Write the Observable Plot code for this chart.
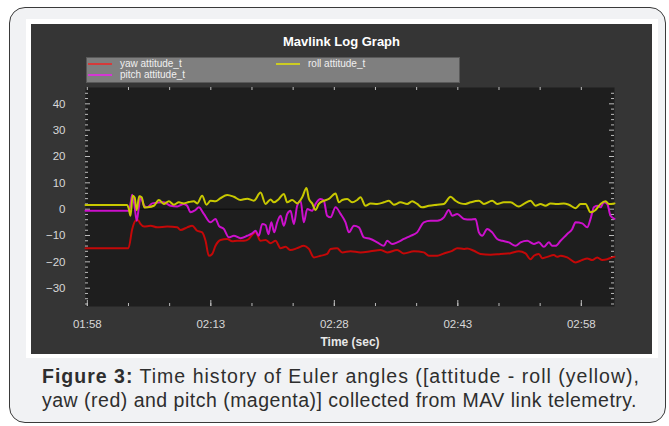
<!DOCTYPE html>
<html>
<head>
<meta charset="utf-8">
<script src="https://cdn.jsdelivr.net/npm/d3@7"></script>
<script src="https://cdn.jsdelivr.net/npm/@observablehq/plot@0.6"></script>
<style>
  html, body { margin: 0; padding: 0; }
  body { width: 669px; height: 426px; background: #ffffff; position: relative; overflow: hidden;
         font-family: "Liberation Sans", Arial, sans-serif; }
  #outer { position: absolute; left: 9px; top: 7px; width: 657px; height: 416px; box-sizing: border-box;
           border: 1.4px solid #3a3a3a; border-radius: 16px; background: #f1f2f4; }
  #frame { position: absolute; left: 26px; top: 19px; width: 632px; height: 339px; background: #ffffff; }
  #panel { position: absolute; left: 31px; top: 24px; width: 621px; height: 330px; background: #353535; }
  #chart { position: absolute; left: 0; top: 0; }
  #title { position: absolute; left: 0; width: 621px; top: 8px; text-align: center; color: #ffffff;
           font-weight: bold; font-size: 13px; line-height: 20px; }
  #legend { position: absolute; left: 55px; top: 33px; width: 374px; height: 26px; box-sizing: border-box;
            background: #7f7f7f; border: 1px solid #595959; }
  .lg { position: absolute; font-size: 10px; line-height: 12px; color: #f0f0f0; white-space: nowrap; }
  .sw { position: absolute; width: 24px; height: 2px; }
  .cap { position: absolute; left: 42px; font-size: 19.5px; line-height: 24px; color: #2e2e2e; white-space: nowrap; }
</style>
</head>
<body>
<div id="outer"></div>
<div id="frame"></div>
<div id="panel">
  <div id="chart"></div>
  <div id="title"></div>
  <div id="legend"></div>
</div>
<div class="cap" id="cap1"></div>
<div class="cap" id="cap2"></div>
<script>
// ---- data (time in seconds after 01:58, angle in degrees) ----
const chartTitle = "Mavlink Log Graph";
const xLabel = "Time (sec)";
const seriesNames = ["yaw attitude_t", "roll attitude_t", "pitch attitude_t"];
const seriesColors = ["#c40808", "#c8c800", "#cc10cc"];
const xTickValues = [0, 15, 30, 45, 60];
const xTickLabels = ["01:58", "02:13", "02:28", "02:43", "02:58"];
const xMinorTicks = [0, 5, 10, 15, 20, 25, 30, 35, 40, 45, 50, 55, 60];
const yTickValues = [-30, -20, -10, 0, 10, 20, 30, 40];
const yMinorTicks = [-36, -34, -32, -28, -26, -24, -22, -18, -16, -14, -12, -8, -6, -4, -2, 2, 4, 6, 8, 12, 14, 16, 18, 22, 24, 26, 28, 32, 34, 36, 38, 42, 44];
const xDomain = [-0.22, 64.03];
const yDomain = [-36.95, 46.2];

const yaw = [[-0.22,-14.8],[5.0,-14.8],[5.45,-7.6],[5.85,-4.4],[6.15,-4.1],[6.45,-5.6],[6.9,-6.6],[7.68,-6.3],[8.49,-6.9],[9.7,-6.6],[10.92,-6.9],[11.32,-7.9],[12.13,-6.9],[12.74,-6.3],[13.34,-8.2],[13.95,-8.8],[14.36,-12.0],[14.76,-17.7],[15.17,-17.0],[15.57,-13.9],[16.18,-11.7],[16.99,-11.3],[17.6,-12.2],[18.2,-12.0],[19.01,-12.0],[19.62,-11.3],[20.03,-9.7],[20.43,-8.8],[21.04,-12.0],[21.65,-11.7],[22.25,-12.9],[22.86,-12.0],[23.47,-14.8],[24.07,-14.3],[24.68,-15.5],[25.49,-14.8],[26.3,-13.9],[26.91,-15.1],[27.52,-18.3],[28.33,-17.7],[29.13,-17.0],[29.54,-15.1],[30.35,-14.8],[30.96,-16.4],[31.97,-16.0],[33.18,-16.4],[34.4,-16.0],[35.61,-15.5],[36.42,-16.4],[37.64,-15.5],[38.45,-16.8],[39.66,-16.0],[40.87,-16.4],[41.48,-17.7],[42.5,-17.7],[43.31,-16.8],[44.32,-15.8],[44.93,-14.8],[45.74,-15.1],[46.14,-14.9],[46.95,-15.8],[47.76,-17.0],[48.97,-17.3],[50.19,-17.0],[51.4,-16.7],[52.41,-16.0],[53.22,-16.8],[53.83,-19.0],[54.24,-17.7],[54.84,-17.0],[55.25,-18.6],[55.86,-18.1],[56.67,-17.4],[57.07,-18.1],[57.48,-17.7],[58.29,-18.3],[59.3,-20.2],[60.11,-19.3],[60.72,-18.7],[61.33,-19.3],[61.93,-18.3],[62.54,-19.3],[63.15,-19.0],[63.75,-18.3],[64.03,-18.1]];

const roll = [[-0.22,1.6],[4.85,1.6],[5.04,0.1],[5.25,-2.5],[5.5,5.1],[5.75,4.4],[6.0,-0.4],[6.3,4.9],[6.6,4.5],[6.95,0.6],[7.27,0.7],[8.08,1.3],[8.69,3.5],[9.29,2.0],[9.9,3.0],[10.51,1.7],[11.12,2.6],[11.72,2.2],[12.33,2.7],[12.94,3.0],[13.34,2.2],[13.95,5.1],[14.48,1.7],[14.96,3.2],[15.57,3.0],[16.18,4.2],[16.99,5.4],[17.8,4.7],[18.61,3.5],[19.42,4.0],[20.23,3.2],[21.04,6.3],[21.65,2.0],[22.25,3.7],[22.66,2.6],[23.27,3.9],[23.87,5.8],[24.28,2.6],[24.88,3.5],[25.49,2.2],[26.1,4.5],[26.62,8.0],[26.91,3.9],[27.31,2.2],[27.72,-0.3],[28.12,2.0],[28.73,3.2],[29.34,3.9],[30.15,6.0],[30.55,2.6],[30.96,3.5],[31.57,3.9],[32.17,2.6],[32.78,3.5],[33.18,4.5],[33.79,1.3],[34.4,2.2],[35.21,2.0],[36.02,2.6],[36.62,3.2],[37.23,1.7],[38.04,2.6],[38.85,2.0],[39.46,3.0],[40.06,2.0],[40.67,0.7],[41.48,1.3],[42.5,1.7],[43.31,2.0],[44.12,4.7],[44.72,3.2],[45.33,2.2],[45.94,2.0],[46.54,2.6],[47.56,3.2],[48.17,2.0],[49.17,3.2],[49.78,2.0],[50.59,2.6],[51.4,2.6],[52.41,1.0],[53.02,2.0],[53.83,3.2],[54.44,1.3],[55.05,2.0],[55.65,1.3],[56.26,2.2],[57.07,2.0],[57.88,2.2],[58.49,1.7],[59.3,0.4],[59.91,2.0],[60.52,2.0],[61.12,-1.2],[61.73,-0.3],[62.34,2.0],[62.95,3.0],[63.35,2.0],[64.03,2.2]];

const pitch = [[-0.22,-0.6],[5.05,-0.6],[5.3,3.0],[5.45,5.5],[5.7,2.0],[6.0,-4.4],[6.25,0.5],[6.45,4.7],[6.7,3.0],[6.9,1.3],[7.27,0.7],[7.88,2.2],[9.29,2.6],[10.11,1.3],[10.92,1.0],[11.72,2.0],[12.13,1.3],[12.54,-1.2],[13.14,-0.3],[13.55,0.7],[14.15,-1.8],[14.96,-5.0],[15.57,-3.7],[15.98,-6.3],[16.58,-7.5],[17.19,-10.7],[17.8,-10.1],[18.61,-11.0],[19.42,-10.1],[20.03,-9.2],[20.43,-8.2],[20.83,-10.1],[21.24,-5.6],[21.65,-6.0],[22.0,-9.5],[22.35,-5.0],[22.7,-8.8],[23.06,-5.0],[23.47,-2.5],[23.87,-6.3],[24.28,-1.8],[24.68,-0.6],[25.09,-5.6],[25.49,1.3],[25.9,3.2],[26.3,-5.0],[26.71,0.1],[27.31,-0.6],[27.72,2.0],[28.33,3.9],[28.73,3.2],[29.13,-2.5],[29.54,-3.1],[30.15,0.7],[30.76,-1.8],[31.36,-5.0],[31.77,-8.8],[32.38,-6.3],[32.98,-6.9],[33.59,-10.7],[34.4,-11.3],[35.21,-12.6],[36.02,-13.9],[36.42,-12.0],[37.03,-13.2],[37.64,-12.6],[38.45,-11.3],[39.26,-10.1],[40.06,-8.8],[40.87,-5.0],[41.68,-4.4],[42.5,-4.4],[43.31,-3.1],[43.91,-0.3],[44.32,-2.5],[44.93,-1.8],[45.74,-3.7],[46.54,-3.9],[47.15,-3.7],[47.56,-8.8],[47.96,-10.1],[48.57,-7.5],[49.17,-8.8],[49.78,-11.3],[50.39,-12.0],[51.2,-12.6],[52.01,-13.9],[52.62,-12.6],[53.43,-12.0],[54.24,-13.2],[54.84,-12.6],[55.45,-14.3],[56.06,-12.6],[56.46,-13.9],[56.87,-13.9],[57.48,-12.0],[58.29,-9.4],[58.9,-7.5],[59.3,-5.0],[60.11,-5.4],[60.72,-6.9],[61.12,-3.7],[61.53,0.7],[61.93,1.3],[62.34,0.7],[62.74,2.6],[63.15,2.0],[63.55,-2.5],[64.03,-3.7]];

const captionBold = "Figure 3:";
const captionLine1 = " Time history of Euler angles ([attitude - roll (yellow),";
const captionLine2 = "yaw (red) and pitch (magenta)] collected from MAV link telemetry.";

// ---- chart ----
const W = 621, H = 330;
const mL = 54, mR = 38, mT = 63, mB = 48;
const fw = W - mL - mR, fh = H - mT - mB;
const tickCol = "#bcbcbc";

const chart = Plot.plot({
  width: W, height: H,
  marginLeft: mL, marginRight: mR, marginTop: mT, marginBottom: mB,
  style: { background: "transparent", color: "#d8d8d8", fontFamily: "'Liberation Sans', Arial, sans-serif", fontSize: "11.5px" },
  x: { domain: xDomain, label: null },
  y: { domain: yDomain, label: null },
  marks: [
    Plot.frame({ fill: "#1e1e1e", stroke: "none" }),
    Plot.ruleY([0], { stroke: "#101010", strokeWidth: 1.5 }),
    // inner ticks
    Plot.tickY(yMinorTicks, { y: d => d, stroke: tickCol, insetRight: fw - 3 }),
    Plot.tickY(yTickValues, { y: d => d, stroke: tickCol, insetRight: fw - 5 }),
    Plot.tickY(yMinorTicks, { y: d => d, stroke: tickCol, insetLeft: fw - 3 }),
    Plot.tickY(yTickValues, { y: d => d, stroke: tickCol, insetLeft: fw - 5 }),
    Plot.tickX(xMinorTicks, { x: d => d, stroke: tickCol, insetTop: fh - 3 }),
    Plot.tickX(xTickValues, { x: d => d, stroke: tickCol, insetTop: fh - 6 }),
    Plot.tickX(xMinorTicks, { x: d => d, stroke: tickCol, insetBottom: fh - 3 }),
    // series
    Plot.line(yaw, { x: d => d[0], y: d => d[1], stroke: seriesColors[0], strokeWidth: 2, curve: "monotone-x" }),
    Plot.line(pitch, { x: d => d[0], y: d => d[1], stroke: seriesColors[2], strokeWidth: 2, curve: "monotone-x" }),
    Plot.line(roll, { x: d => d[0], y: d => d[1], stroke: seriesColors[1], strokeWidth: 2, curve: "monotone-x" }),
    // axes
    Plot.axisX(xTickValues, { anchor: "bottom", tickSize: 0, tickPadding: 13, tickFormat: (d, i) => xTickLabels[i] }),
    Plot.axisY(yTickValues, { anchor: "left", tickSize: 0, tickPadding: 20 }),
    Plot.text([xLabel], { frameAnchor: "bottom", dy: 39, fontWeight: "bold", fontSize: 12, fill: "#e8e8e8" })
  ]
});
document.getElementById("chart").appendChild(chart);

// ---- title & legend ----
document.getElementById("title").textContent = chartTitle;
const legend = document.getElementById("legend");
const legendPos = [[1, 6, 0], [189, 6, 1], [1, 17, 2]]; // [left, centerY, series]
for (const [lx, ly, si] of legendPos) {
  const sw = document.createElement("div");
  sw.className = "sw";
  sw.style.left = lx + "px";
  sw.style.top = (ly - 1) + "px";
  sw.style.background = si === 0 ? "#d63a3a" : si === 1 ? "#cccc22" : "#d436d4";
  legend.appendChild(sw);
  const t = document.createElement("div");
  t.className = "lg";
  t.style.left = (lx + 32) + "px";
  t.style.top = (ly - 6) + "px";
  t.textContent = seriesNames[si];
  legend.appendChild(t);
}

// ---- caption ----
const c1 = document.getElementById("cap1");
c1.style.top = "364px";
const b = document.createElement("b");
b.textContent = captionBold;
c1.appendChild(b);
c1.appendChild(document.createTextNode(captionLine1));
const c2 = document.getElementById("cap2");
c2.style.top = "388px";
c2.textContent = captionLine2;
function fit(el, target) {
  const w = el.getBoundingClientRect().width;
  const n = el.textContent.length;
  el.style.letterSpacing = ((target - w) / n) + "px";
}
fit(c1, 598);
fit(c2, 595);
</script>
</body>
</html>
